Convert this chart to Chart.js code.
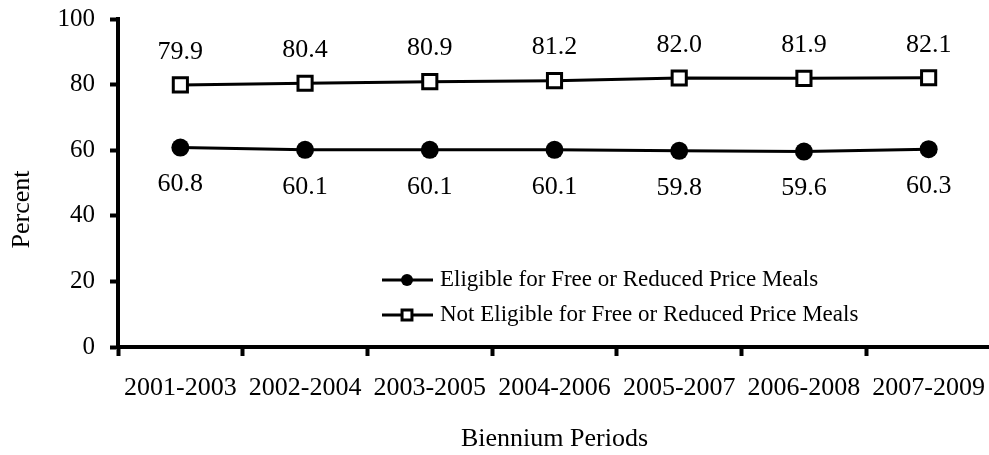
<script src="https://cdn.jsdelivr.net/npm/chart.js@4.4.1/dist/chart.umd.min.js"></script>
<body style="margin:0; background:#fff; overflow:hidden;">
<style>
    /* canvas a bit wider than the window: Chart.js keeps ~13px on the right,
       the original's axis runs to the edge */
    .chart-wrapper {
        width: 1004px;
        height: 455px;
    }
</style>

<div class="chart-wrapper">
    <canvas id="chart1" aria-label="chart" width="1004" height="455"></canvas>
</div>

<script>
    // values
    var periods = ["2001-2003", "2002-2004", "2003-2005", "2004-2006", "2005-2007", "2006-2008", "2007-2009"];
    var eligible = [60.8, 60.1, 60.1, 60.1, 59.8, 59.6, 60.3];
    var notEligible = [79.9, 80.4, 80.9, 81.2, 82.0, 81.9, 82.1];
    var seriesNames = ["Eligible for Free or Reduced Price Meals", "Not Eligible for Free or Reduced Price Meals"];
    var yMin = 0, yMax = 100, yStep = 20;
    var yTitle = "Percent";
    var xTitle = "Biennium Periods";

    var serif = "'Liberation Serif', 'Times New Roman', serif";
    Chart.defaults.color = '#000';
    Chart.defaults.font.family = serif;

    // value labels: below the circles, above the squares
    var valueLabels = {
        id: 'valueLabels',
        afterDatasetsDraw: function(chart) {
            var ctx = chart.ctx;
            ctx.save();
            ctx.font = "26px " + serif;
            ctx.fillStyle = '#000';
            ctx.textAlign = 'center';
            ctx.textBaseline = 'middle';
            chart.data.datasets.forEach(function(ds, i) {
                var meta = chart.getDatasetMeta(i);
                meta.data.forEach(function(pt, j) {
                    var dy = i === 0 ? 37 : -33;
                    ctx.fillText(ds.data[j].toFixed(1), pt.x, pt.y + dy);
                });
            });
            ctx.restore();
        }
    };

    // legend sits inside the plot, line + marker sample like the original
    var innerLegend = {
        id: 'innerLegend',
        afterDraw: function(chart) {
            var ctx = chart.ctx;
            var area = chart.chartArea;
            var x0 = area.left + 264;
            ctx.save();
            chart.data.datasets.forEach(function(ds, i) {
                var y = area.bottom - 67 + i * 35;
                ctx.strokeStyle = '#000';
                ctx.lineWidth = 3;
                ctx.beginPath();
                ctx.moveTo(x0, y);
                ctx.lineTo(x0 + 51, y);
                ctx.stroke();
                ctx.fillStyle = ds.pointBackgroundColor;
                ctx.lineWidth = 3;
                Chart.helpers.drawPoint(ctx, {
                    pointStyle: ds.pointStyle,
                    radius: ds.pointStyle === 'rect' ? 7 : 6,
                    rotation: 0,
                    borderWidth: ds.pointStyle === 'rect' ? 3 : 0
                }, x0 + 25, y);
                ctx.fillStyle = '#000';
                ctx.font = "23px " + serif;
                ctx.textAlign = 'left';
                ctx.textBaseline = 'middle';
                ctx.fillText(ds.label, x0 + 58, y);
            });
            ctx.restore();
        }
    };

    // y title is centred lower than the plot area in the original
    var yAxisTitle = {
        id: 'yAxisTitle',
        afterDraw: function(chart) {
            var ctx = chart.ctx;
            ctx.save();
            ctx.font = "26px " + serif;
            ctx.fillStyle = '#000';
            ctx.textAlign = 'center';
            ctx.textBaseline = 'middle';
            ctx.translate(22, (chart.chartArea.top + chart.height - 55) / 2);
            ctx.rotate(-Math.PI / 2);
            ctx.fillText(yTitle, 0, 0);
            ctx.restore();
        }
    };

    var chrt1 = document.getElementById("chart1").getContext("2d");
    var chartId1 = new Chart(chrt1, {
        type: 'line',
        data: {
            labels: periods,
            datasets: [{
                label: seriesNames[0],
                data: eligible,
                borderColor: '#000',
                borderWidth: 3,
                pointStyle: 'circle',
                pointRadius: 9,
                pointHoverRadius: 9,
                pointBackgroundColor: '#000',
                pointBorderColor: '#000',
                pointBorderWidth: 0,
                tension: 0
            }, {
                label: seriesNames[1],
                data: notEligible,
                borderColor: '#000',
                borderWidth: 3,
                pointStyle: 'rect',
                pointRadius: 10,
                pointHoverRadius: 10,
                pointBackgroundColor: '#fff',
                pointBorderColor: '#000',
                pointBorderWidth: 3,
                tension: 0
            }]
        },
        options: {
            responsive: false,
            animation: false,
            layout: {
                padding: { top: 19, left: 0, right: 0, bottom: 0 }
            },
            plugins: {
                legend: { display: false },
                tooltip: { enabled: false }
            },
            scales: {
                x: {
                    offset: true,
                    grid: {
                        offset: true,
                        drawOnChartArea: false,
                        tickLength: 9,
                        tickWidth: 4,
                        tickColor: '#000'
                    },
                    border: { color: '#000', width: 4 },
                    ticks: {
                        font: { size: 26 },
                        padding: 17,
                        maxRotation: 0,
                        autoSkip: false
                    },
                    title: {
                        display: true,
                        text: xTitle,
                        font: { size: 26 },
                        padding: { top: 0, bottom: 0 }
                    },
                    afterFit: function(scale) {
                        scale.height = 108;
                        scale.paddingLeft = 0;
                        scale.paddingRight = 0;
                    }
                },
                y: {
                    min: yMin,
                    max: yMax,
                    ticks: {
                        stepSize: yStep,
                        font: { size: 25 },
                        padding: 15
                    },
                    grid: {
                        drawOnChartArea: false,
                        tickLength: 8,
                        tickWidth: 4,
                        tickColor: '#000'
                    },
                    border: { color: '#000', width: 4 },
                    afterFit: function(scale) {
                        scale.width = 118;
                        scale.paddingTop = 0;
                        scale.paddingBottom = 0;
                    }
                }
            }
        },
        plugins: [valueLabels, innerLegend, yAxisTitle]
    });
</script>
</body>
